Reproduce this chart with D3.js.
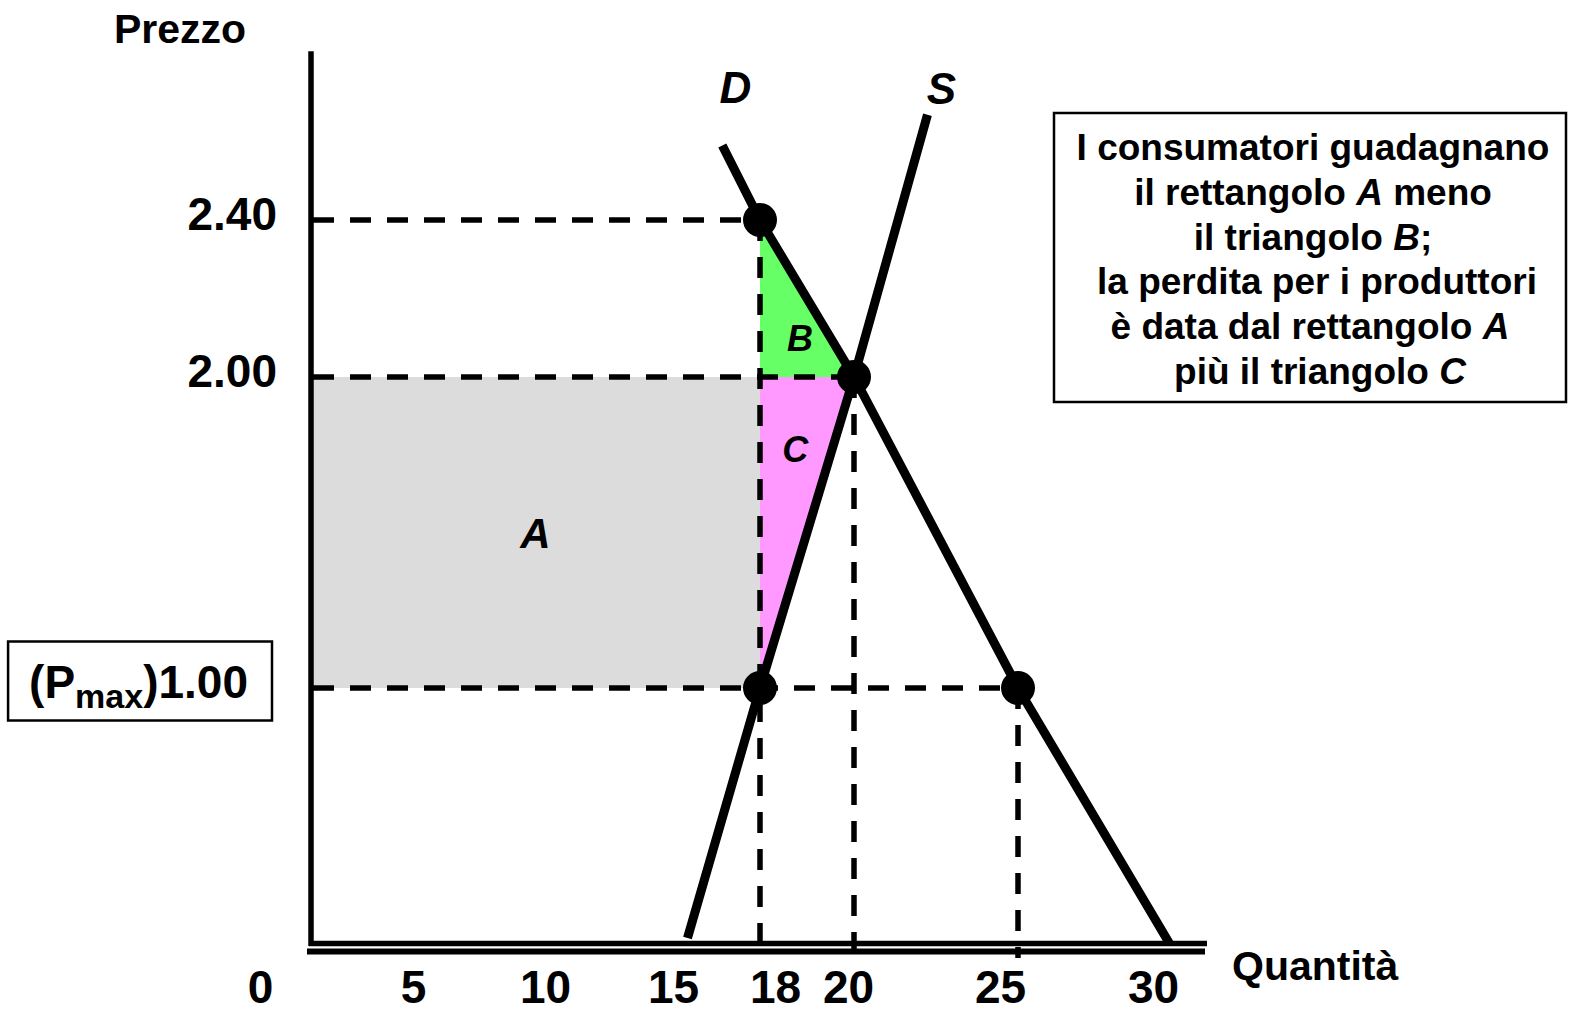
<!DOCTYPE html>
<html>
<head>
<meta charset="utf-8">
<script src="https://cdn.jsdelivr.net/npm/d3@7"></script>
<style>
  html, body { margin: 0; padding: 0; background: #ffffff; }
  svg { display: block; font-family: "Liberation Sans", Arial, Helvetica, sans-serif; font-weight: bold; }
</style>
</head>
<body>
<svg id="chart" width="1569" height="1013"></svg>
<script>
// Price ceiling on a market: quantities on the horizontal axis, prices on the vertical one
const quantityTicks = [0, 5, 10, 15, 18, 20, 25, 30];
const priceTicks = [2.4, 2.0, 1.0];
const priceCeiling = 1.0;

// Key points (quantity, price)
const pointQ = [18, 20, 18, 25];
const pointP = [2.4, 2.0, 1.0, 1.0];

// Demand and supply schedules
const demandQ = [16.7, 18, 20, 25, 30.6];
const demandP = [2.59, 2.4, 2.0, 1.0, 0];
const supplyQ = [15.5, 18, 20, 22.24];
const supplyP = [0.02, 1.0, 2.0, 2.668];

// Surplus areas: A = transfer from producers, B = consumer loss, C = producer loss
const areaA = { q0: 0, q1: 18, p0: 1.0, p1: 2.0 };
const areaBQ = [18, 18, 20];
const areaBP = [2.4, 2.0, 2.0];
const areaCQ = [18, 20, 18];
const areaCP = [2.0, 2.0, 1.0];

// Explanatory note, one entry per line; [text, italic]
const noteLines = [
  [["I consumatori guadagnano", false]],
  [["il rettangolo ", false], ["A", true], [" meno", false]],
  [["il triangolo ", false], ["B", true], [";", false]],
  [["la perdita per i produttori", false]],
  [["è data dal rettangolo ", false], ["A", true]],
  [["più il triangolo ", false], ["C", true]]
];

const svg = d3.select("#chart");

// The sketch is drawn to a hand-set grid, so both scales are piecewise linear
const x = d3.scaleLinear()
  .domain(quantityTicks)
  .range([311, 413, 545, 673, 760, 854, 1018, 1153]);
const y = d3.scaleLinear()
  .domain([0, 1, 2, 2.4])
  .range([943, 688, 377, 220]);

const yTop = y(2.83);
const x0 = x(0), y0 = y(0);

// ---- shaded areas ----
svg.append("rect")
  .attr("x", x(areaA.q0)).attr("y", y(areaA.p1))
  .attr("width", x(areaA.q1) - x(areaA.q0))
  .attr("height", y(areaA.p0) - y(areaA.p1))
  .attr("fill", "#dcdcdc");

const poly = d3.line().x(d => x(d[0])).y(d => y(d[1]));
svg.append("path")
  .attr("d", poly(d3.zip(areaBQ, areaBP)) + "Z")
  .attr("fill", "#66ff66");
svg.append("path")
  .attr("d", poly(d3.zip(areaCQ, areaCP)) + "Z")
  .attr("fill", "#ff99ff");

// ---- dashed guides ----
const dash = svg.append("g")
  .attr("stroke", "#000").attr("stroke-width", 5.5)
  .attr("stroke-dasharray", "21,16").attr("fill", "none");

// horizontal guides run from the price axis to the rightmost point at each price
priceTicks.forEach(p => {
  const qs = pointQ.filter((q, i) => pointP[i] === p);
  dash.append("line")
    .attr("x1", x0 + 2).attr("x2", x(d3.max(qs)))
    .attr("y1", y(p)).attr("y2", y(p));
});
// vertical guides run from the highest point at each quantity down past the axis
Array.from(new Set(pointQ)).forEach(q => {
  const ps = pointP.filter((p, i) => pointQ[i] === q);
  dash.append("line")
    .attr("x1", x(q)).attr("x2", x(q))
    .attr("y1", y(d3.max(ps))).attr("y2", y0 + 15);
});

// ---- axes ----
svg.append("line")
  .attr("x1", x0).attr("x2", x0)
  .attr("y1", yTop).attr("y2", y0 + 3)
  .attr("stroke", "#000").attr("stroke-width", 5.5);
svg.append("line")
  .attr("x1", x0 - 2).attr("x2", 1207)
  .attr("y1", y0 + 0.5).attr("y2", y0 + 0.5)
  .attr("stroke", "#000").attr("stroke-width", 5.5);
svg.append("line")
  .attr("x1", x0 - 4).attr("x2", 1205)
  .attr("y1", y0 + 8.5).attr("y2", y0 + 8.5)
  .attr("stroke", "#000").attr("stroke-width", 6);

// quantity tick labels; a few are nudged sideways so they sit clear of the guides
const labelNudge = new Map([[0, -51], [18, 15], [20, -6], [25, -18]]);
const xAxis = svg.append("g")
  .attr("transform", `translate(0,${y0})`)
  .call(d3.axisBottom(x).tickValues(quantityTicks).tickSize(0).tickPadding(27).tickFormat(d3.format("d")));
xAxis.select(".domain").remove();
xAxis.attr("font-family", null).attr("font-size", null);
xAxis.selectAll("text")
  .attr("font-size", 46).attr("font-weight", "bold").attr("fill", "#000")
  .attr("x", d => labelNudge.get(d) || 0);

// price tick labels
const yAxis = svg.append("g")
  .attr("transform", `translate(${x0},0)`)
  .call(d3.axisLeft(y).tickValues(priceTicks).tickSize(0).tickPadding(34).tickFormat(d3.format(".2f")));
yAxis.select(".domain").remove();
yAxis.attr("font-family", null).attr("font-size", null);
yAxis.selectAll("text")
  .attr("font-size", 46).attr("font-weight", "bold").attr("fill", "#000")
  .attr("dy", "0.21em");

// the ceiling price carries the P max tag inside a frame
const ceilTick = yAxis.selectAll(".tick").filter(d => d === priceCeiling);
const ceilText = ceilTick.select("text").text(null).attr("x", -63);
ceilText.append("tspan").text("(P");
ceilText.append("tspan").attr("font-size", 34).attr("dy", 10).text("max");
ceilText.append("tspan").attr("dy", -10).text(")" + d3.format(".2f")(priceCeiling));
const bb = ceilText.node().getBBox();
ceilTick.insert("rect", "text")
  .attr("x", bb.x - 21).attr("y", -47)
  .attr("width", bb.width + 45).attr("height", 79)
  .attr("fill", "#fff").attr("stroke", "#000").attr("stroke-width", 2.5);

// ---- demand and supply ----
svg.append("path")
  .attr("d", poly(d3.zip(demandQ, demandP)))
  .attr("fill", "none").attr("stroke", "#000").attr("stroke-width", 9);
svg.append("path")
  .attr("d", poly(d3.zip(supplyQ, supplyP)))
  .attr("fill", "none").attr("stroke", "#000").attr("stroke-width", 9);

// ---- points ----
svg.append("g").selectAll("circle")
  .data(d3.zip(pointQ, pointP))
  .join("circle")
  .attr("cx", d => x(d[0])).attr("cy", d => y(d[1]))
  .attr("r", 17).attr("fill", "#000");

// ---- curve and area labels ----
const italicLabel = (tx, ty, s, size) => svg.append("text")
  .attr("x", tx).attr("y", ty)
  .attr("text-anchor", "middle")
  .attr("font-style", "italic").attr("font-size", size)
  .text(s);

italicLabel(x(demandQ[0]) + 13, y(demandP[0]) - 42, "D", 44);
italicLabel(x(supplyQ[supplyQ.length - 1]) + 14, y(supplyP[supplyP.length - 1]) - 11, "S", 44);
italicLabel((x(areaA.q0) + x(areaA.q1)) / 2, (y(areaA.p0) + y(areaA.p1)) / 2 + 15, "A", 42);
italicLabel(x(18.85), y(2.1) + 13, "B", 36);
italicLabel(x(18.75), y(1.77) + 13, "C", 36);

// ---- axis titles ----
svg.append("text").attr("x", 114).attr("y", 43).attr("font-size", 41).text("Prezzo");
svg.append("text").attr("x", 1232).attr("y", 980).attr("font-size", 41).text("Quantità");

// ---- note box ----
svg.append("rect")
  .attr("x", 1054).attr("y", 113).attr("width", 512).attr("height", 289)
  .attr("fill", "#fff").attr("stroke", "#000").attr("stroke-width", 2.5);
const note = svg.append("text")
  .attr("text-anchor", "middle").attr("font-size", 37);
const noteShift = [0, 0, 0, 4, -3, 7];
noteLines.forEach((segs, i) => {
  const line = note.append("tspan").attr("x", 1313 + noteShift[i]).attr("y", 160 + i * 44.8);
  segs.forEach(([s, it]) => {
    line.append("tspan").attr("font-style", it ? "italic" : null).text(s);
  });
});
</script>
</body>
</html>
